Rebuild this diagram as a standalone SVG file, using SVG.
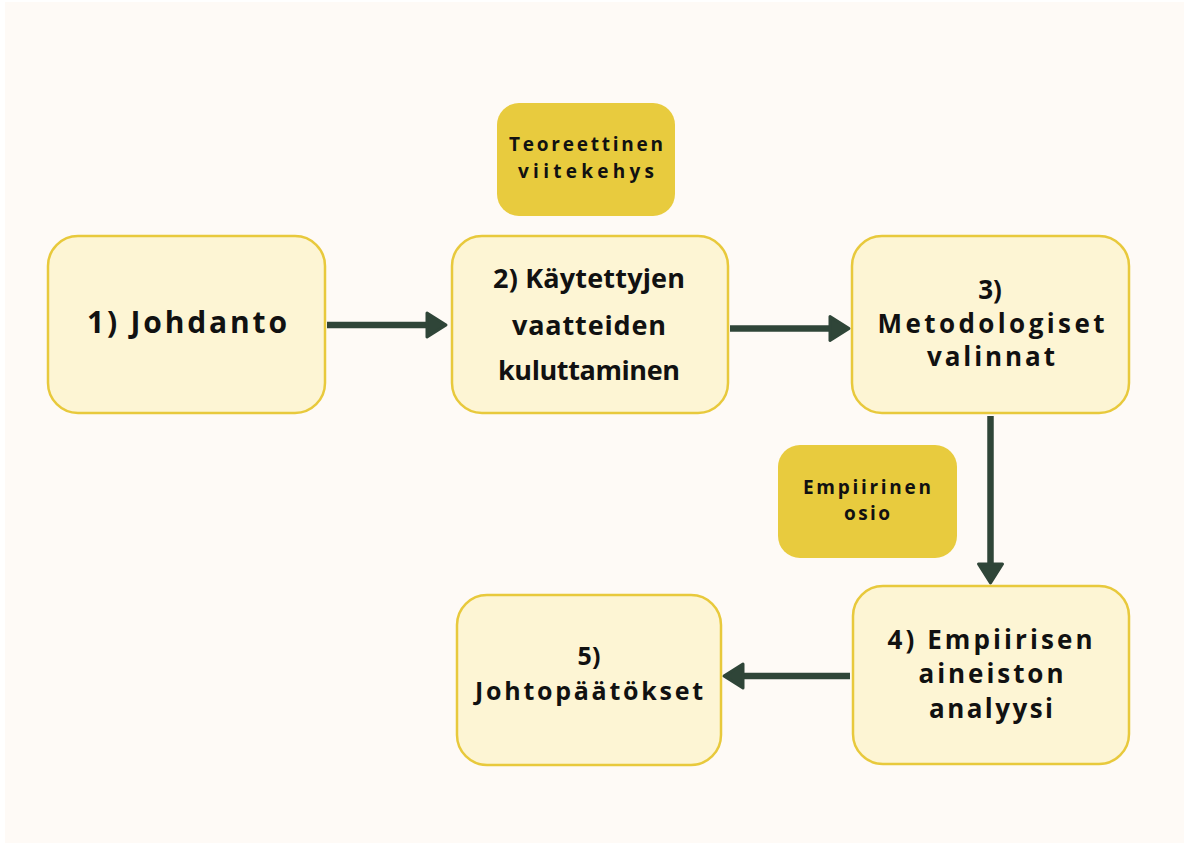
<svg xmlns="http://www.w3.org/2000/svg" width="1184" height="843" viewBox="0 0 1184 843">
<defs>
<style>
.node{fill:#fdf5d4;stroke:#e8c93c;stroke-width:2.5}
.tag{fill:#e8cb3e;stroke:none}
.t{font-family:"Open Sans","Liberation Sans",sans-serif;font-weight:bold;fill:#111;text-anchor:middle;font-variant-ligatures:none}
.edge{stroke:#2f4538;stroke-width:6.5;fill:none;marker-end:url(#ah)}
</style>
<marker id="ah" markerUnits="userSpaceOnUse" markerWidth="30" markerHeight="34" viewBox="-4 -17 30 34" refX="2" refY="0" orient="auto">
<path d="M0,-12 L19,0 L0,12 z" fill="#2f4538" stroke="#2f4538" stroke-width="3" stroke-linejoin="round"/>
</marker>
</defs>
<rect width="1184" height="843" fill="#ffffff"/>
<rect x="5" y="2" width="1179" height="841" fill="#fefaf6"/>
<g id="connectors">
<line class="edge" x1="327" y1="325" x2="429" y2="325"/>
<line class="edge" x1="730" y1="328.5" x2="832" y2="328.5"/>
<line class="edge" x1="990.5" y1="416" x2="990.5" y2="566"/>
<line class="edge" x1="850" y1="676" x2="741" y2="676"/>
</g>
<g id="tag-teoreettinen">
<rect class="tag" x="497" y="103" width="178" height="113" rx="22"/>
<text class="t" font-size="19" x="586" y="151" textLength="154" lengthAdjust="spacing">Teoreettinen</text>
<text class="t" font-size="19" x="586" y="178" textLength="136" lengthAdjust="spacing">viitekehys</text>
</g>
<g id="tag-empiirinen">
<rect class="tag" x="778" y="445" width="179" height="113" rx="22"/>
<text class="t" font-size="19" x="867" y="494" textLength="128" lengthAdjust="spacing">Empiirinen</text>
<text class="t" font-size="19" x="867" y="520" textLength="46" lengthAdjust="spacing">osio</text>
</g>
<g id="node1">
<rect class="node" x="48" y="236" width="277" height="177" rx="30"/>
<text class="t" font-size="30" x="187" y="333" textLength="200" lengthAdjust="spacing">1) Johdanto</text>
</g>
<g id="node2">
<rect class="node" x="452" y="236" width="276" height="177" rx="30"/>
<text class="t" font-size="27" x="589" y="288" textLength="192" lengthAdjust="spacing">2) Käytettyjen</text>
<text class="t" font-size="27" x="589" y="335" textLength="154" lengthAdjust="spacing">vaatteiden</text>
<text class="t" font-size="27" x="589" y="380" textLength="182" lengthAdjust="spacing">kuluttaminen</text>
</g>
<g id="node3">
<rect class="node" x="852" y="236" width="277" height="177" rx="30"/>
<text class="t" font-size="26" x="990" y="299">3)</text>
<text class="t" font-size="26" x="991" y="333" textLength="227" lengthAdjust="spacing">Metodologiset</text>
<text class="t" font-size="26" x="991" y="366" textLength="128" lengthAdjust="spacing">valinnat</text>
</g>
<g id="node4">
<rect class="node" x="853" y="586" width="276" height="178" rx="30"/>
<text class="t" font-size="26" x="990" y="649" textLength="205" lengthAdjust="spacing">4) Empiirisen</text>
<text class="t" font-size="26" x="991" y="683" textLength="145" lengthAdjust="spacing">aineiston</text>
<text class="t" font-size="26" x="991" y="718" textLength="124" lengthAdjust="spacing">analyysi</text>
</g>
<g id="node5">
<rect class="node" x="457" y="595" width="264" height="170" rx="30"/>
<text class="t" font-size="25" x="589" y="665">5)</text>
<text class="t" font-size="25" x="589" y="700" textLength="228" lengthAdjust="spacing">Johtopäätökset</text>
</g>
</svg>
